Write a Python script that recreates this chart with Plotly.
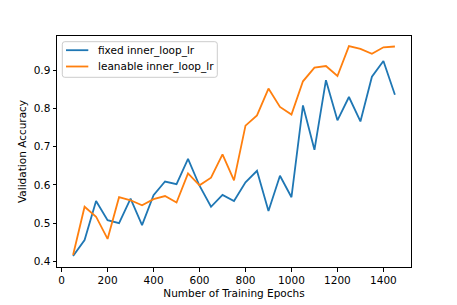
import plotly.graph_objects as go

epochs = list(range(50, 1451, 50))
fixed_lr = [0.414, 0.456, 0.558, 0.508, 0.500, 0.564, 0.495, 0.573, 0.609, 0.602,
            0.668, 0.598, 0.543, 0.574, 0.558, 0.607, 0.637, 0.532, 0.624, 0.568,
            0.808, 0.692, 0.874, 0.769, 0.830, 0.766, 0.883, 0.924, 0.836]
learnable_lr = [0.417, 0.543, 0.517, 0.459, 0.568, 0.560, 0.547, 0.563, 0.571, 0.554,
                0.630, 0.599, 0.619, 0.680, 0.612, 0.755, 0.782, 0.852, 0.804, 0.784,
                0.871, 0.907, 0.911, 0.885, 0.963, 0.956, 0.943, 0.960, 0.962]
series_names = ["fixed inner_loop_lr", "leanable inner_loop_lr"]
series_colors = ["#1f77b4", "#ff7f0e"]
x_ticks = [0, 200, 400, 600, 800, 1000, 1200, 1400]
y_ticks = [0.4, 0.5, 0.6, 0.7, 0.8, 0.9]

FONT = "DejaVu Sans"
FS = 10.5
W, H = 457, 305
ML, MR, MT, MB = 57, 46, 36, 38
PW, PH = W - ML - MR, H - MT - MB


def px_x(p):
    return (p - ML) / PW


def px_y(p):
    return 1 - (p - MT) / PH


fig = go.Figure()
for vals, name, col in zip([fixed_lr, learnable_lr], series_names, series_colors):
    fig.add_trace(go.Scatter(x=epochs, y=vals, mode="lines", name=name,
                             line=dict(color=col, width=1.8), showlegend=False))

axis_common = dict(showline=True, linecolor="black", linewidth=1, mirror=True,
                   ticks="outside", ticklen=3.5, tickwidth=1, tickcolor="black",
                   showgrid=False, zeroline=False, automargin=False,
                   tickfont=dict(family=FONT, size=FS, color="black"))

# manual matplotlib-like legend
bx0, bx1, by0, by1 = px_x(62.3), px_x(217.3), px_y(41.7), px_y(77.3)
rx, ry = 2.5 / PW, 2.5 / PH
path = (f"M {bx0+rx},{by0} L {bx1-rx},{by0} Q {bx1},{by0} {bx1},{by0-ry} "
        f"L {bx1},{by1+ry} Q {bx1},{by1} {bx1-rx},{by1} L {bx0+rx},{by1} "
        f"Q {bx0},{by1} {bx0},{by1+ry} L {bx0},{by0-ry} Q {bx0},{by0} {bx0+rx},{by0} Z")
shapes = [dict(type="path", xref="paper", yref="paper", path=path,
               fillcolor="rgba(255,255,255,0.8)", line=dict(color="#cccccc", width=1))]
annotations = []
rows_px = [50.2, 66.5]
for name, col, rp in zip(series_names, series_colors, rows_px):
    shapes.append(dict(type="line", xref="paper", yref="paper",
                       x0=px_x(66), x1=px_x(88.3), y0=px_y(rp), y1=px_y(rp),
                       line=dict(color=col, width=1.8)))
    annotations.append(dict(xref="paper", yref="paper", x=px_x(95.5), y=px_y(rp),
                            xanchor="left", yanchor="middle", showarrow=False,
                            text=name, font=dict(family=FONT, size=FS, color="black")))

fig.update_layout(
    width=W, height=H,
    margin=dict(l=ML, r=MR, t=MT, b=MB, autoexpand=False),
    paper_bgcolor="white", plot_bgcolor="white",
    font=dict(family=FONT, size=FS, color="black"),
    xaxis=dict(range=[-20, 1520], tickvals=x_ticks, ticktext=[str(v) for v in x_ticks],
               title=dict(text="Number of Training Epochs", font=dict(family=FONT, size=FS), standoff=4),
               **axis_common),
    yaxis=dict(range=[0.3855, 0.9895], tickvals=y_ticks, ticktext=[f"{v:.1f}" for v in y_ticks],
               title=dict(text="Validation Accuracy", font=dict(family=FONT, size=FS), standoff=5),
               **axis_common),
    shapes=shapes,
    annotations=annotations,
    showlegend=False,
)

fig.write_html("out.html", config={"displayModeBar": False, "staticPlot": True},
               post_script="document.body.style.margin='0';document.body.style.overflow='hidden';")
